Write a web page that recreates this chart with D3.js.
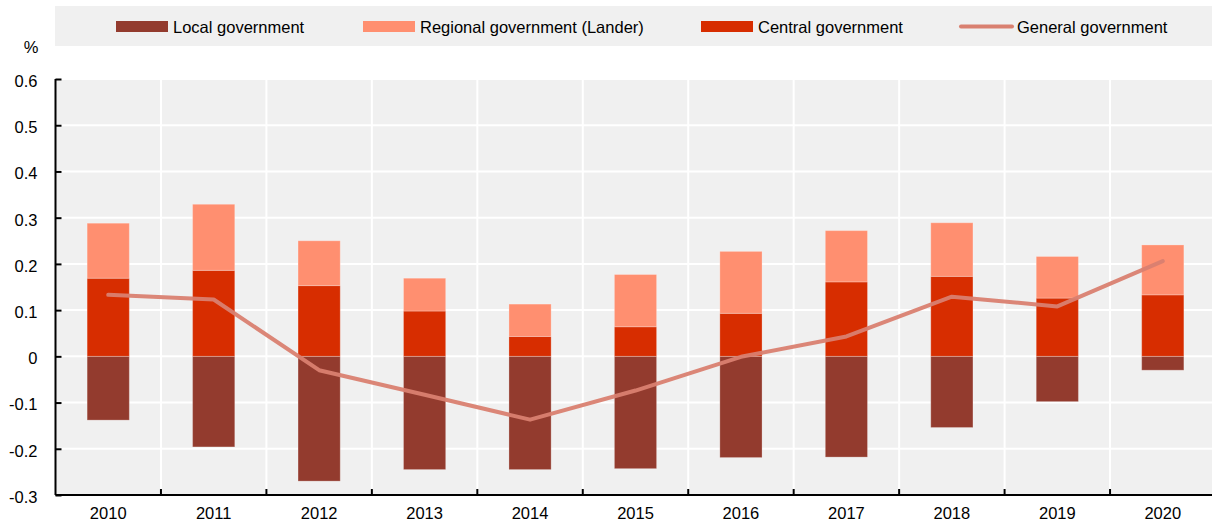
<!DOCTYPE html>
<html>
<head>
<meta charset="utf-8">
<script src="https://cdn.jsdelivr.net/npm/d3@7"></script>
<style>
  body { margin: 0; background: #fff; }
  svg { display: block; font-family: "Liberation Sans", Arial, sans-serif; }
</style>
</head>
<body>
<svg id="chart" width="1212" height="522"></svg>
<script>
const years = ['2010','2011','2012','2013','2014','2015','2016','2017','2018','2019','2020'];
const localGov = [-0.138, -0.196, -0.270, -0.245, -0.245, -0.243, -0.219, -0.218, -0.154, -0.098, -0.030];
const centralGov = [0.169, 0.186, 0.153, 0.098, 0.043, 0.064, 0.093, 0.161, 0.173, 0.126, 0.133];
const regionalGov = [0.119, 0.143, 0.097, 0.071, 0.070, 0.113, 0.134, 0.111, 0.116, 0.090, 0.108];
const generalGov = [0.133, 0.123, -0.030, -0.083, -0.137, -0.074, -0.001, 0.043, 0.129, 0.108, 0.206];
const yTicks = [-0.3, -0.2, -0.1, 0, 0.1, 0.2, 0.3, 0.4, 0.5, 0.6];

const colors = { local: '#933b2e', regional: '#ff8f70', central: '#d72d00', general: '#d98070' };
const fontSize = 16.5;

const svg = d3.select('#chart');
const plotLeft = 55.5, plotRight = 1215.5, plotTop = 79, plotBottom = 495;

// legend box
svg.append('rect').attr('x', 55).attr('y', 6).attr('width', 1160).attr('height', 40).attr('fill', '#f0f0f0');

const legend = [
  {name: 'Local government', color: colors.local, x: 116, type: 'bar'},
  {name: 'Regional government (Lander)', color: colors.regional, x: 363, type: 'bar'},
  {name: 'Central government', color: colors.central, x: 701, type: 'bar'},
  {name: 'General government', color: colors.general, x: 960, type: 'line'}
];
legend.forEach(l => {
  if (l.type === 'bar') {
    svg.append('rect').attr('x', l.x).attr('y', 21).attr('width', 52).attr('height', 11).attr('fill', l.color);
  } else {
    svg.append('line').attr('x1', l.x + 1).attr('x2', l.x + 52).attr('y1', 26.5).attr('y2', 26.5)
      .attr('stroke', l.color).attr('stroke-width', 4).attr('stroke-linecap', 'round');
  }
  svg.append('text').attr('x', l.x + 57).attr('y', 32.5).attr('font-size', fontSize).attr('fill', '#000').text(l.name);
});

// scales
const x = d3.scaleBand().domain(years).range([plotLeft, plotRight]).paddingInner(0).paddingOuter(0);
const y = d3.scaleLinear().domain([-0.3, 0.6]).range([plotBottom, plotTop]);

// plot background
svg.append('rect').attr('x', plotLeft).attr('y', plotTop).attr('width', plotRight - plotLeft).attr('height', plotBottom - plotTop).attr('fill', '#f0f0f0');

// gridlines
svg.append('g').selectAll('line').data(yTicks.slice(1)).join('line')
  .attr('x1', plotLeft).attr('x2', plotRight)
  .attr('y1', d => y(d)).attr('y2', d => y(d))
  .attr('stroke', '#fff').attr('stroke-width', 2);
svg.append('g').selectAll('line').data(years.slice(1)).join('line')
  .attr('x1', d => x(d)).attr('x2', d => x(d))
  .attr('y1', plotTop).attr('y2', plotBottom)
  .attr('stroke', '#fff').attr('stroke-width', 2);

// bars
const bw = x.bandwidth() * 0.4;
const bx = d => x(d) + (x.bandwidth() - bw) / 2;
const bars = svg.append('g').attr('stroke', '#fff').attr('stroke-opacity', 0.25).attr('stroke-width', 1);
years.forEach((yr, i) => {
  bars.append('rect').attr('x', bx(yr)).attr('width', bw)
    .attr('y', y(0)).attr('height', y(localGov[i]) - y(0)).attr('fill', colors.local);
  bars.append('rect').attr('x', bx(yr)).attr('width', bw)
    .attr('y', y(centralGov[i])).attr('height', y(0) - y(centralGov[i])).attr('fill', colors.central);
  bars.append('rect').attr('x', bx(yr)).attr('width', bw)
    .attr('y', y(centralGov[i] + regionalGov[i])).attr('height', y(centralGov[i]) - y(centralGov[i] + regionalGov[i])).attr('fill', colors.regional);
});

// general government line
svg.append('path')
  .datum(generalGov)
  .attr('fill', 'none')
  .attr('stroke', colors.general)
  .attr('stroke-opacity', 0.95)
  .attr('stroke-width', 4)
  .attr('stroke-linecap', 'round')
  .attr('stroke-linejoin', 'round')
  .attr('d', d3.line()
    .x((d, i) => x(years[i]) + x.bandwidth() / 2)
    .y(d => y(d)));

// axes
const yAxis = svg.append('g').attr('transform', 'translate(' + plotLeft + ',0)')
  .call(d3.axisLeft(y).tickValues(yTicks).tickSize(-6).tickPadding(18).tickFormat(d => String(+d.toFixed(1))));
yAxis.selectAll('text').attr('font-size', fontSize).attr('fill', '#000').attr('dy', '0.45em')
  .attr('font-family', '"Liberation Sans", Arial, sans-serif');
yAxis.selectAll('line').attr('stroke', '#000').attr('stroke-width', 2);
yAxis.select('.domain').attr('stroke', '#000').attr('stroke-width', 2).attr('d', 'M0,' + plotTop + 'V' + plotBottom);

const xAxis = svg.append('g').attr('transform', 'translate(0,' + plotBottom + ')')
  .call(d3.axisBottom(x).tickSize(0).tickPadding(12));
xAxis.selectAll('text').attr('font-size', fontSize).attr('fill', '#000').attr('font-family', '"Liberation Sans", Arial, sans-serif');
xAxis.select('.domain').attr('stroke', '#000').attr('stroke-width', 2).attr('d', 'M' + plotLeft + ',0H' + plotRight);
xAxis.append('g').selectAll('line').data(years.slice(1)).join('line')
  .attr('x1', d => x(d)).attr('x2', d => x(d)).attr('y1', 0).attr('y2', -6)
  .attr('stroke', '#000').attr('stroke-width', 2);

svg.append('text').attr('x', 31).attr('y', 53).attr('text-anchor', 'middle').attr('font-size', fontSize).text('%');
</script>
</body>
</html>
